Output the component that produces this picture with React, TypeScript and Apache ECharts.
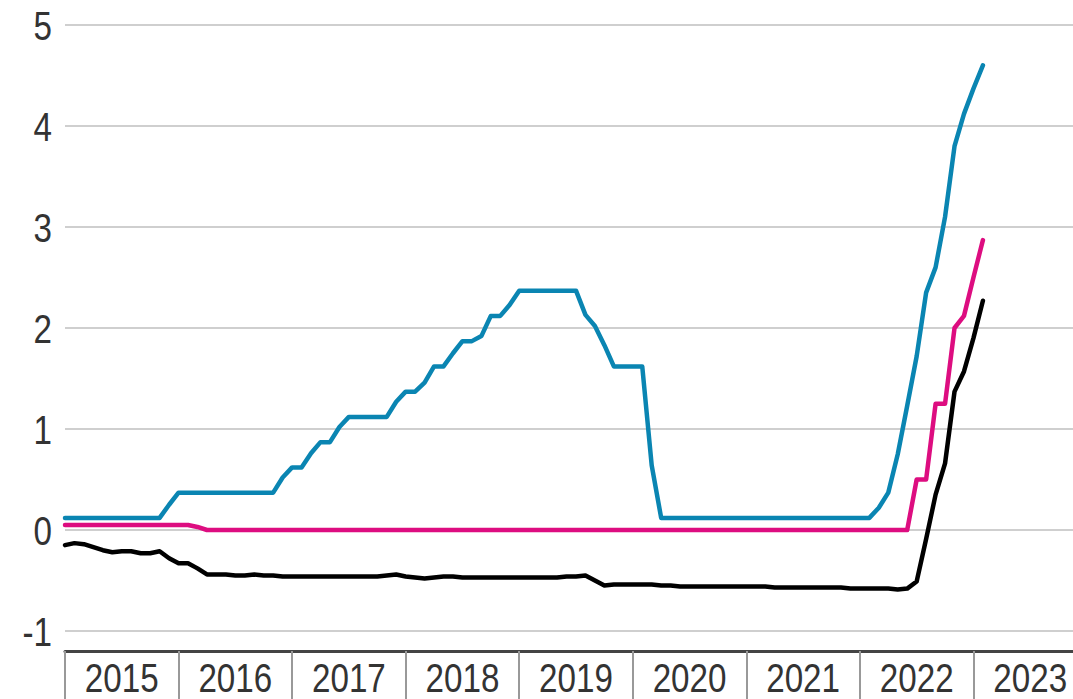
import React, { useEffect, useRef } from "react";
import * as echarts from "echarts";

const years = ["2015", "2016", "2017", "2018", "2019", "2020", "2021", "2022", "2023"];
const yTicks = [-1, 0, 1, 2, 3, 4, 5];

// monthly categories Jan 2015 .. Jan 2024 (axis boundary)
const months: string[] = [];
for (let y = 2015; y <= 2023; y++) {
  for (let m = 1; m <= 12; m++) months.push(`${y}-${m < 10 ? "0" + m : m}`);
}
months.push("2024-01");

// Jan 2015 .. Feb 2023
const blueSeries = [
  0.12, 0.12, 0.12, 0.12, 0.12, 0.12, 0.12, 0.12, 0.12, 0.12, 0.12, 0.25,
  0.37, 0.37, 0.37, 0.37, 0.37, 0.37, 0.37, 0.37, 0.37, 0.37, 0.37, 0.52,
  0.62, 0.62, 0.76, 0.87, 0.87, 1.02, 1.12, 1.12, 1.12, 1.12, 1.12, 1.27,
  1.37, 1.37, 1.46, 1.62, 1.62, 1.75, 1.87, 1.87, 1.92, 2.12, 2.12, 2.23,
  2.37, 2.37, 2.37, 2.37, 2.37, 2.37, 2.37, 2.13, 2.02, 1.83, 1.62, 1.62,
  1.62, 1.62, 0.64, 0.12, 0.12, 0.12, 0.12, 0.12, 0.12, 0.12, 0.12, 0.12,
  0.12, 0.12, 0.12, 0.12, 0.12, 0.12, 0.12, 0.12, 0.12, 0.12, 0.12, 0.12,
  0.12, 0.12, 0.22, 0.37, 0.75, 1.23, 1.72, 2.35, 2.6, 3.1, 3.8, 4.12,
  4.37, 4.6,
];

const magentaSeries = [
  0.05, 0.05, 0.05, 0.05, 0.05, 0.05, 0.05, 0.05, 0.05, 0.05, 0.05, 0.05,
  0.05, 0.05, 0.03, 0, 0, 0, 0, 0, 0, 0, 0, 0,
  0, 0, 0, 0, 0, 0, 0, 0, 0, 0, 0, 0,
  0, 0, 0, 0, 0, 0, 0, 0, 0, 0, 0, 0,
  0, 0, 0, 0, 0, 0, 0, 0, 0, 0, 0, 0,
  0, 0, 0, 0, 0, 0, 0, 0, 0, 0, 0, 0,
  0, 0, 0, 0, 0, 0, 0, 0, 0, 0, 0, 0,
  0, 0, 0, 0, 0, 0, 0.5, 0.5, 1.25, 1.25, 2.0, 2.12,
  2.5, 2.87,
];

const blackSeries = [
  -0.15, -0.13, -0.14, -0.17, -0.2, -0.22, -0.21, -0.21, -0.23, -0.23, -0.21, -0.28,
  -0.33, -0.33, -0.38, -0.44, -0.44, -0.44, -0.45, -0.45, -0.44, -0.45, -0.45, -0.46,
  -0.46, -0.46, -0.46, -0.46, -0.46, -0.46, -0.46, -0.46, -0.46, -0.46, -0.45, -0.44,
  -0.46, -0.47, -0.48, -0.47, -0.46, -0.46, -0.47, -0.47, -0.47, -0.47, -0.47, -0.47,
  -0.47, -0.47, -0.47, -0.47, -0.47, -0.46, -0.46, -0.45, -0.5, -0.55, -0.54, -0.54,
  -0.54, -0.54, -0.54, -0.55, -0.55, -0.56, -0.56, -0.56, -0.56, -0.56, -0.56, -0.56,
  -0.56, -0.56, -0.56, -0.57, -0.57, -0.57, -0.57, -0.57, -0.57, -0.57, -0.57, -0.58,
  -0.58, -0.58, -0.58, -0.58, -0.59, -0.58, -0.51, -0.09, 0.35, 0.66, 1.37, 1.57,
  1.9, 2.27,
];

const FONT = "'Liberation Sans', Arial, sans-serif";
const LABEL_SIZE = 40;
const NARROW = 0.83;
const TEXT_COLOR = "#333";
const X_OFFSET = 20;

export default function App() {
  const ref = useRef<HTMLDivElement>(null);
  useEffect(() => {
    if (!ref.current) return;
    const chart = echarts.init(ref.current, undefined, { renderer: "svg" });
    const lineSeries = (name: string, data: number[], color: string) => ({
      name,
      type: "line",
      xAxisIndex: 1,
      data,
      showSymbol: false,
      symbol: "none",
      lineStyle: { color, width: 4.5, join: "round", cap: "round" },
    });
    chart.setOption({
      animation: false,
      grid: { left: 65, top: 25, right: -14, height: 606, outerBoundsMode: "none", containLabel: false },
      xAxis: [
        {
          type: "category",
          data: years,
          boundaryGap: true,
          position: "bottom",
          offset: X_OFFSET,
          axisLine: { show: true, onZero: false, lineStyle: { color: "#444", width: 3 } },
          axisTick: { show: true, interval: 0, length: 52, lineStyle: { color: "#999", width: 2 } },
          axisLabel: { show: false, interval: 0 },
          splitLine: { show: false },
        },
        {
          type: "category",
          data: months,
          boundaryGap: false,
          show: false,
          axisLine: { onZero: false },
        },
      ],
      yAxis: {
        type: "value",
        min: yTicks[0],
        max: yTicks[yTicks.length - 1],
        interval: 1,
        axisLine: { show: false },
        axisTick: { show: false },
        axisLabel: { show: false },
        splitLine: { show: true, lineStyle: { color: "#cfcfcf", width: 2 } },
      },
      series: [
        lineSeries("Black", blackSeries, "#000000"),
        lineSeries("Magenta", magentaSeries, "#dd0d80"),
        lineSeries("Blue", blueSeries, "#0a85b2"),
      ],
    });

    // axis labels as condensed text, positioned through the axes' own scales
    const leftPx = chart.convertToPixel({ xAxisIndex: 1 }, months[0]) as number;
    const bottomPx = chart.convertToPixel({ yAxisIndex: 0 }, yTicks[0]) as number;
    const labels: any[] = [];
    yTicks.forEach((v) => {
      const py = chart.convertToPixel({ yAxisIndex: 0 }, v) as number;
      labels.push({
        type: "text",
        x: leftPx - 13,
        y: py + 1,
        scaleX: NARROW,
        silent: true,
        style: {
          text: String(v),
          fontSize: LABEL_SIZE,
          fontFamily: FONT,
          fill: TEXT_COLOR,
          align: "right",
          verticalAlign: "middle",
        },
      });
    });
    years.forEach((yr) => {
      const px = chart.convertToPixel({ xAxisIndex: 0 }, yr) as number;
      labels.push({
        type: "text",
        x: px,
        y: bottomPx + X_OFFSET + 27,
        scaleX: NARROW,
        silent: true,
        style: {
          text: yr,
          fontSize: LABEL_SIZE,
          fontFamily: FONT,
          fill: TEXT_COLOR,
          align: "center",
          verticalAlign: "middle",
        },
      });
    });
    chart.setOption({ graphic: labels });

    return () => chart.dispose();
  }, []);
  return (
    <div
      ref={ref}
      style={{ position: "fixed", left: 0, top: 0, width: 1073, height: 699, background: "#fff" }}
    />
  );
}
